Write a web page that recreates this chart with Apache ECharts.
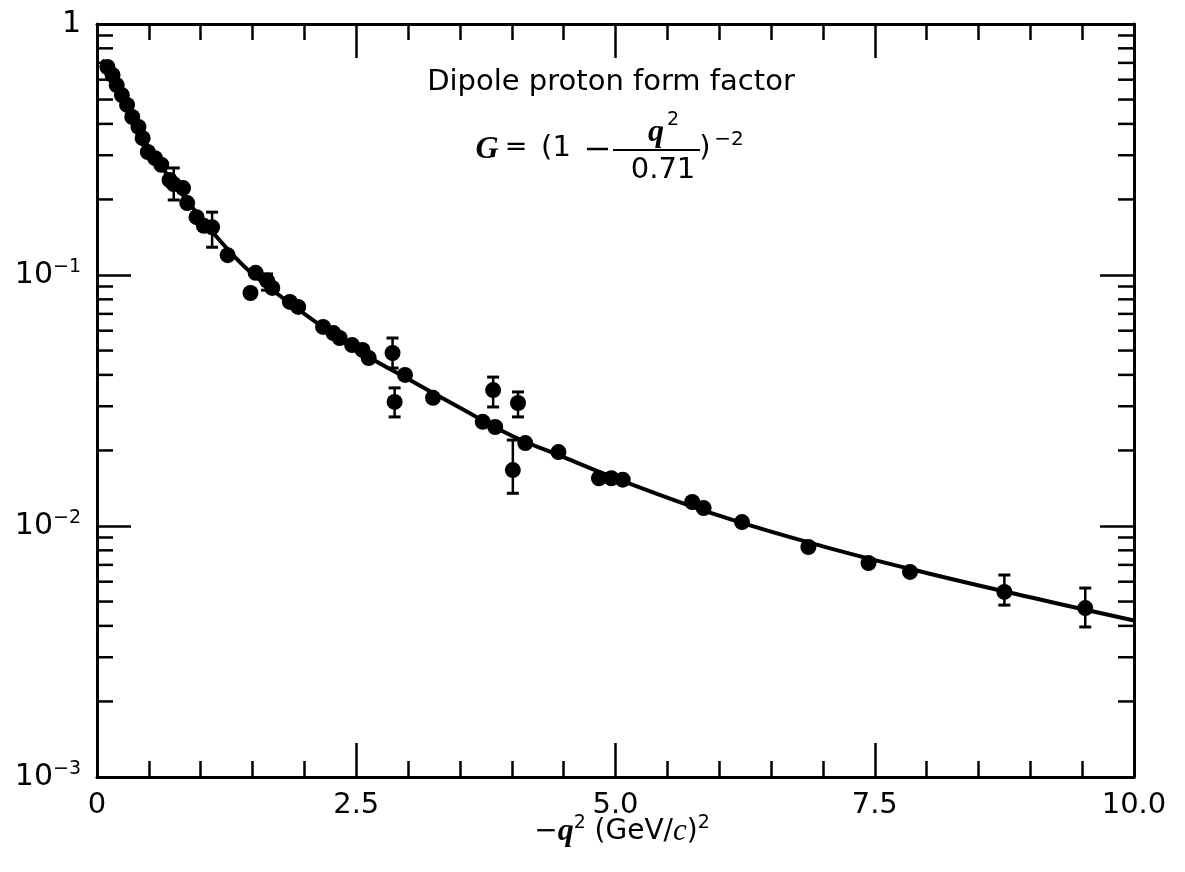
<!DOCTYPE html>
<html><head><meta charset="utf-8">
<script src="https://cdn.jsdelivr.net/npm/echarts@6/dist/echarts.min.js"></script>
<style>html,body{margin:0;padding:0;background:#fff}#c{width:1185px;height:872px}</style>
</head><body><div id="c"></div>
<script>
// ---- data ----
const xTickLabels = ['0', '2.5', '5.0', '7.5', '10.0'];
const q2 = [0.10, 0.15, 0.19, 0.24, 0.29, 0.34, 0.40, 0.44, 0.49, 0.56, 0.62, 0.70, 0.74, 0.83, 0.87, 0.96,
  1.03, 1.11, 1.26, 1.48, 1.53, 1.64, 1.69, 1.86, 1.94, 2.18, 2.28, 2.34, 2.46, 2.56, 2.62,
  2.85, 2.87, 2.97, 3.24, 3.72, 3.82, 3.84, 4.01, 4.06, 4.13, 4.45, 4.84, 4.96, 5.07,
  5.74, 5.85, 6.22, 6.86, 7.44, 7.84, 8.75, 9.53];
const G = [0.674, 0.626, 0.571, 0.521, 0.476, 0.426, 0.389, 0.351, 0.309, 0.292, 0.275, 0.239, 0.230, 0.222, 0.1935, 0.170,
  0.157, 0.155, 0.120, 0.0848, 0.102, 0.095, 0.0888, 0.0781, 0.0746, 0.0621, 0.0587, 0.0561, 0.0526, 0.0503, 0.0467,
  0.0489, 0.0312, 0.0400, 0.0324, 0.0260, 0.0348, 0.0248, 0.0167, 0.0309, 0.0214, 0.0197, 0.0155, 0.0155, 0.0153,
  0.01246, 0.01179, 0.01037, 0.00825, 0.00712, 0.00656, 0.00546, 0.00471];
const errX  = [0.74, 1.11, 1.64, 2.85, 2.87, 3.82, 4.06, 4.01, 8.75, 9.53];
const errLo = [0.199, 0.129, 0.087, 0.0426, 0.0272, 0.0298, 0.0272, 0.0135, 0.00484, 0.00396];
const errHi = [0.267, 0.178, 0.101, 0.0561, 0.0355, 0.0392, 0.0342, 0.0220, 0.00638, 0.00566];
const curveX = [0.05, 0.25, 0.5, 0.75, 1.0, 1.25, 1.5, 2.0, 2.5, 3.0, 3.5, 4.0, 4.5, 5.0, 6.0, 7.0, 8.0, 9.0, 10.0];
const curveG = [0.72, 0.53, 0.32, 0.230, 0.169, 0.128, 0.101, 0.070, 0.0505, 0.0385, 0.0296, 0.0229, 0.0188, 0.0155, 0.0110, 0.0083, 0.0065, 0.0052, 0.0042];
const yMinorTicks = [0.002, 0.003, 0.004, 0.005, 0.006, 0.007, 0.008, 0.009,
  0.02, 0.03, 0.04, 0.05, 0.06, 0.07, 0.08, 0.09,
  0.2, 0.3, 0.4, 0.5, 0.6, 0.7, 0.8, 0.9];

// ---- chart ----
const chart = echarts.init(document.getElementById('c'), null, {renderer: 'canvas'});
const SANS = '"DejaVu Sans", "Liberation Sans", sans-serif';
const SERIF = '"Liberation Serif", "DejaVu Serif", serif';
const BLACK = '#000';

function xAxisCfg(pos, showLabel) {
  return {
    type: 'value', min: 0, max: 10, interval: 2.5, position: pos,
    axisLine: {show: true, onZero: false, lineStyle: {color: BLACK, width: 3}},
    axisTick: {show: true, inside: true, length: 34, lineStyle: {color: BLACK, width: 2.5}},
    minorTick: {show: true, splitNumber: 5, length: 16, lineStyle: {color: BLACK, width: 2.5}},
    splitLine: {show: false}, minorSplitLine: {show: false},
    axisLabel: {
      show: showLabel, margin: 14, color: BLACK, fontFamily: SANS, fontSize: 29,
      formatter: v => xTickLabels[Math.round(v / 2.5)]
    }
  };
}
function yAxisCfg(pos, showLabel) {
  return {
    type: 'log', logBase: 10, min: 0.001, max: 1, position: pos,
    axisLine: {show: true, onZero: false, lineStyle: {color: BLACK, width: 3}},
    axisTick: {show: true, inside: true, length: 34, lineStyle: {color: BLACK, width: 2.5}},
    splitLine: {show: false},
    axisLabel: {
      show: showLabel, margin: 16, color: BLACK,
      formatter: v => {
        const e = Math.round(Math.log10(v));
        return e === 0 ? '{n|1}' : '{n|10}{s|−' + (-e) + '}';
      },
      rich: {
        n: {fontFamily: SANS, fontSize: 30, lineHeight: 34, color: BLACK},
        s: {fontFamily: SANS, fontSize: 19, lineHeight: 19, verticalAlign: 'top', color: BLACK}
      }
    }
  };
}

const option = {
  animation: false,
  backgroundColor: '#fff',
  grid: {left: 97, right: 51, top: 24, bottom: 95, containLabel: false},
  xAxis: [xAxisCfg('bottom', true), xAxisCfg('top', false)],
  yAxis: [yAxisCfg('left', true), yAxisCfg('right', false)],
  series: [
    {
      type: 'custom', name: 'yMinor', clip: false, silent: true, z: 5,
      data: yMinorTicks.flatMap(v => [[0, v], [10, v]]),
      encode: {x: 0, y: 1},
      renderItem: (params, api) => {
        const p = api.coord([api.value(0), api.value(1)]);
        const dir = api.value(0) === 0 ? 1 : -1;
        return {type: 'line', shape: {x1: p[0], y1: p[1], x2: p[0] + dir * 16, y2: p[1]},
          style: {stroke: BLACK, lineWidth: 2.5}};
      }
    },
    {
      type: 'line', name: 'dipole', data: curveX.map((x, i) => [x, curveG[i]]),
      smooth: 0.4, showSymbol: false, symbol: 'none', z: 3,
      lineStyle: {color: BLACK, width: 4, opacity: 1}
    },
    {
      type: 'custom', name: 'errors', z: 4,
      data: errX.map((x, i) => [x, errLo[i], errHi[i]]),
      encode: {x: 0, y: [1, 2]},
      renderItem: (params, api) => {
        const x = api.value(0);
        const lo = api.coord([x, api.value(1)]);
        const hi = api.coord([x, api.value(2)]);
        const w = 6;
        const st = {stroke: BLACK, lineWidth: 2.5};
        return {type: 'group', children: [
          {type: 'line', shape: {x1: lo[0], y1: lo[1], x2: hi[0], y2: hi[1]}, style: st},
          {type: 'line', shape: {x1: lo[0] - w, y1: lo[1], x2: lo[0] + w, y2: lo[1]}, style: {stroke: BLACK, lineWidth: 3}},
          {type: 'line', shape: {x1: hi[0] - w, y1: hi[1], x2: hi[0] + w, y2: hi[1]}, style: {stroke: BLACK, lineWidth: 3}}
        ]};
      }
    },
    {
      type: 'scatter', name: 'data', z: 6,
      data: q2.map((x, i) => [x, G[i]]),
      symbol: 'circle', symbolSize: 16,
      itemStyle: {color: BLACK, opacity: 1}
    }
  ],
  graphic: [
    {type: 'text', x: 611, y: 82, style: {text: 'Dipole proton form factor', font: '29px ' + SANS,
      fill: BLACK, align: 'center', verticalAlign: 'middle', textAlign: 'center', textVerticalAlign: 'middle'}},
    {type: 'text', x: 487, y: 150, style: {text: 'G', font: 'italic bold 32px ' + SERIF, fill: BLACK,
      align: 'center', verticalAlign: 'middle', textAlign: 'center', textVerticalAlign: 'middle'}},
    {type: 'text', x: 516, y: 148, style: {text: '=', font: '27px ' + SANS, fill: BLACK,
      align: 'center', verticalAlign: 'middle', textAlign: 'center', textVerticalAlign: 'middle'}},
    {type: 'text', x: 556, y: 148, style: {text: '(1', font: '29px ' + SANS, fill: BLACK,
      align: 'center', verticalAlign: 'middle', textAlign: 'center', textVerticalAlign: 'middle'}},
    {type: 'line', shape: {x1: 587, y1: 149, x2: 608, y2: 149}, style: {stroke: BLACK, lineWidth: 2.5}},
    {type: 'line', shape: {x1: 613, y1: 150, x2: 700, y2: 150}, style: {stroke: BLACK, lineWidth: 2}},
    {type: 'text', x: 656, y: 133, style: {text: 'q', font: 'italic bold 32px ' + SERIF, fill: BLACK,
      align: 'center', verticalAlign: 'middle', textAlign: 'center', textVerticalAlign: 'middle'}},
    {type: 'text', x: 673, y: 120, style: {text: '2', font: '19px ' + SANS, fill: BLACK,
      align: 'center', verticalAlign: 'middle', textAlign: 'center', textVerticalAlign: 'middle'}},
    {type: 'text', x: 663, y: 170, style: {text: '0.71', font: '29px ' + SANS, fill: BLACK,
      align: 'center', verticalAlign: 'middle', textAlign: 'center', textVerticalAlign: 'middle'}},
    {type: 'text', x: 705, y: 148, style: {text: ')', font: '29px ' + SANS, fill: BLACK,
      align: 'center', verticalAlign: 'middle', textAlign: 'center', textVerticalAlign: 'middle'}},
    {type: 'text', x: 729, y: 140, style: {text: '−2', font: '20px ' + SANS, fill: BLACK,
      align: 'center', verticalAlign: 'middle', textAlign: 'center', textVerticalAlign: 'middle'}},
    {type: 'text', x: 622, y: 832, style: {
      text: '{n|−}{q|q}{s|2}{n| (GeV/}{c|c}{n|)}{s|2}',
      align: 'center', verticalAlign: 'middle', textAlign: 'center', textVerticalAlign: 'middle',
      rich: {
        n: {fontFamily: SANS, fontSize: 28, lineHeight: 36, fill: BLACK, color: BLACK},
        q: {fontFamily: SERIF, fontStyle: 'italic', fontWeight: 'bold', fontSize: 32, lineHeight: 36, fill: BLACK, color: BLACK},
        c: {fontFamily: SERIF, fontStyle: 'italic', fontSize: 31, lineHeight: 36, fill: BLACK, color: BLACK},
        s: {fontFamily: SANS, fontSize: 19, lineHeight: 19, verticalAlign: 'top', fill: BLACK, color: BLACK}
      }
    }}
  ]
};
chart.setOption(option);
</script>
</body></html>
